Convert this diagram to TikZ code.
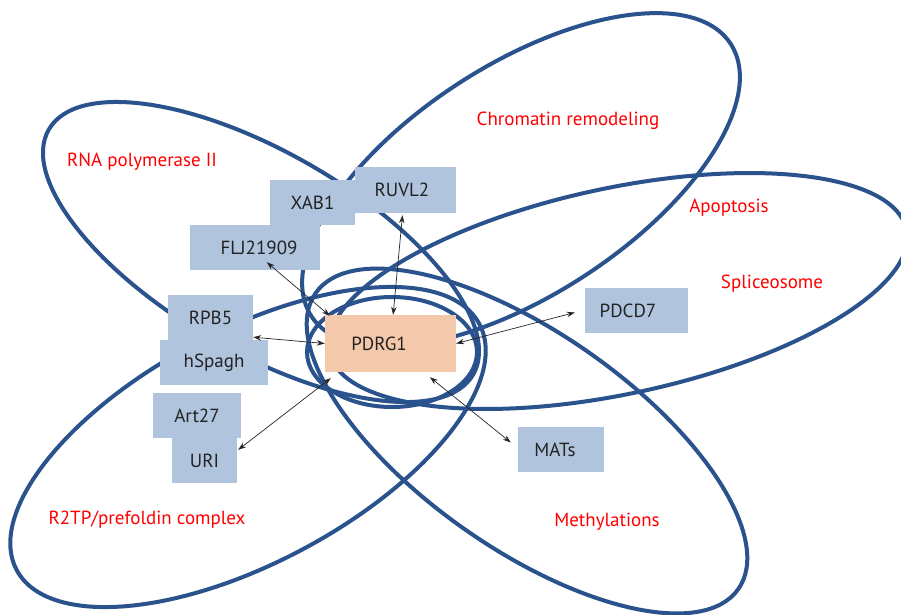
\documentclass[tikz,border=0pt]{standalone}
\usepackage{fontspec}
\setmainfont{PT Sans}
\usetikzlibrary{arrows.meta,calc}
\definecolor{ellblue}{RGB}{42,82,140}
\definecolor{boxblue}{RGB}{176,196,222}
\definecolor{peach}{RGB}{244,200,170}
\definecolor{boxtext}{RGB}{35,35,35}
\definecolor{labred}{RGB}{255,0,0}
\begin{document}
\begin{tikzpicture}[x=1pt,y=-1pt,
  ring/.style={draw=ellblue,line width=4pt},
  gbox/.style={fill=boxblue,inner sep=0pt,text=boxtext,font=\fontsize{19}{22}\selectfont,minimum height=45pt},
  pbox/.style={fill=peach,inner sep=0pt,text=boxtext,font=\fontsize{19}{22}\selectfont},
  lab/.style={text=labred,font=\fontsize{19}{22}\selectfont,inner sep=0pt},
  link/.style={line width=0.7pt,draw=black!85,{Stealth[length=8pt,width=5.5pt]}-{Stealth[length=8pt,width=5.5pt]}}]
\fill[white] (0,0) rectangle (901,614);
\useasboundingbox (0,0) rectangle (901,614);
% ellipses
\draw[ring, rotate around={-30:(261,252)}] (261,252) ellipse [x radius=245, y radius=100];
\draw[ring, rotate around={33:(521,180)}] (521,180) ellipse [x radius=250, y radius=115];
\draw[ring, rotate around={12:(618,291)}] (618,291) ellipse [x radius=295, y radius=103];
\draw[ring, rotate around={28:(248,447)}] (248,447) ellipse [x radius=262, y radius=116];
\draw[ring, rotate around={-35:(527,441)}] (527,441) ellipse [x radius=258, y radius=108];
\draw[ring] (392,352) ellipse [x radius=85, y radius=55];
% boxes
\node[gbox, minimum width=85pt] (xab) at (312.5,202.5) {XAB1};
\node[gbox, minimum width=101pt, minimum height=46pt] (ruvl) at (405.5,190) {RUVL2\hspace*{7pt}};
\node[gbox, minimum width=130pt] (flj) at (255,247.5) {\hspace*{8pt}FLJ21909};
\node[gbox, minimum width=85pt] (rpb) at (210.5,317.5) {RPB5};
\node[gbox, minimum width=108pt] (hsp) at (214,362.5) {hSpagh};
\node[gbox, minimum width=88pt] (art) at (197,415.5) {Art27};
\node[gbox, minimum width=65pt] (uri) at (204.5,460.5) {URI};
\node[pbox, minimum width=131pt, minimum height=57pt] (pdrg) at (390.5,343.5) {PDRG1\hspace*{23pt}};
\node[gbox, minimum width=103pt] (pdcd) at (636.5,310.5) {PDCD7\hspace*{17pt}};
\node[gbox, minimum width=86pt] (mats) at (561,449.5) {MATs\hspace*{12pt}};
% labels
\node[lab] (lrna) at (142,162) {RNA polymerase II};
\node[lab] (lchr) at (568,121) {Chromatin remodeling};
\node[lab] (lapo) at (729,208) {Apoptosis};
\node[lab] (lspl) at (772,284) {Spliceosome};
\node[lab] (lr2) at (147,520) {R2TP/prefoldin complex};
\node[lab] (lmet) at (607,522) {Methylations};
% connectors
\draw[link] ($(flj.south west)!0.59!(flj.south east)+(0,-8)$) -- ($(pdrg.north west)+(5,1)$);
\draw[link] ($(ruvl.south west)!0.47!(ruvl.south east)+(0,2)$) -- ($(pdrg.north west)!0.52!(pdrg.north east)$);
\draw[link] ($(rpb.south east)+(0,-3)$) -- (pdrg.west);
\draw[link] ($(uri.north east)+(1,12)$) -- ($(pdrg.south west)+(6,6)$);
\draw[link] ($(pdcd.west)+(-10,2)$) -- (pdrg.east);
\draw[link] ($(mats.west)+(-7,-7)$) -- ($(pdrg.south west)!0.8!(pdrg.south east)+(0,5)$);
\end{tikzpicture}
\end{document}
